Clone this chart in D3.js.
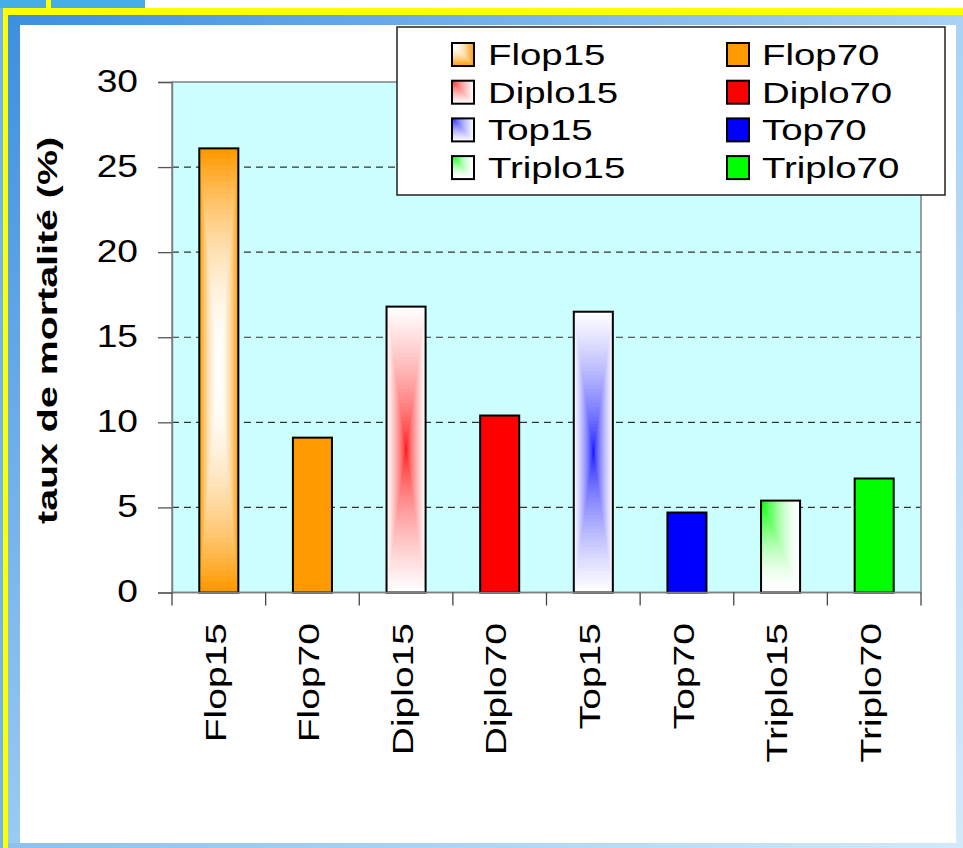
<!DOCTYPE html>
<html>
<head>
<meta charset="utf-8">
<script src="https://cdn.jsdelivr.net/npm/d3@7"></script>
<style>
  html, body { margin: 0; padding: 0; background: #ffffff; }
  svg { display: block; }
  text { font-family: "Liberation Sans", Arial, Helvetica, sans-serif; fill: #000; }
</style>
</head>
<body>
<svg id="chart" width="963" height="848"></svg>
<script>
// Mortality rate (%) per treatment
const categories = ["Flop15", "Flop70", "Diplo15", "Diplo70", "Top15", "Top70", "Triplo15", "Triplo70"];
const mortality = [26.1, 9.1, 16.8, 10.4, 16.5, 4.7, 5.4, 6.7];
const yTicks = [0, 5, 10, 15, 20, 25, 30];
const legendOrder = ["Flop15", "Flop70", "Diplo15", "Diplo70", "Top15", "Top70", "Triplo15", "Triplo70"];
const yTitle = "taux de mortalité (%)";

// Fill style per treatment: solid, centre-out rectangular gradient, or corner gradient
const styles = {
  Flop15:   { kind: "center", edge: "#ff9900", core: "#ffffff", curve: t => Math.pow(t, 2) },
  Flop70:   { kind: "solid",  color: "#ff9900" },
  Diplo15:  { kind: "center", edge: "#ffffff", core: "#ff0000", curve: t => Math.pow(t, 0.6) },
  Diplo70:  { kind: "solid",  color: "#ff0000" },
  Top15:    { kind: "center", edge: "#ffffff", core: "#0000ff", curve: t => Math.pow(t, 0.6) },
  Top70:    { kind: "solid",  color: "#0000ff" },
  Triplo15: { kind: "corner", edge: "#ffffff", core: "#00ff00", curve: t => 1 - Math.pow(1 - t, 1.7) },
  Triplo70: { kind: "solid",  color: "#00ff00" }
};

const svg = d3.select("#chart");
const W = 963, H = 848;

// ---------- slide frame ----------
const defs = svg.append("defs");
function linGrad(id, x2, y2, stops) {
  const g = defs.append("linearGradient").attr("id", id)
    .attr("x1", 0).attr("y1", 0).attr("x2", x2).attr("y2", y2);
  stops.forEach(([o, c]) => g.append("stop").attr("offset", o).attr("stop-color", c));
}
linGrad("bandTop", 1, 0, [[0, "#3d8fe0"], [1, "#a9d2f4"]]);
linGrad("bandLeft", 0, 1, [[0, "#3d8fe0"], [1, "#9ccbf2"]]);
linGrad("bandBottom", 1, 0, [[0, "#8cc0ee"], [1, "#d2eafa"]]);
linGrad("bandRight", 0, 1, [[0, "#a9d2f4"], [1, "#d2eafa"]]);

svg.append("rect").attr("width", W).attr("height", H).attr("fill", "#ffffff");
svg.append("rect").attr("x", 0).attr("y", 0).attr("width", 145).attr("height", 9).attr("fill", "#45ade6");
svg.append("rect").attr("x", 0).attr("y", 8).attr("width", 3).attr("height", H - 8).attr("fill", "#6fb6ec");
svg.append("rect").attr("x", 46).attr("y", 0).attr("width", 5).attr("height", 9).attr("fill", "#ffff00");
svg.append("rect").attr("x", 3).attr("y", 8).attr("width", W - 3).attr("height", 7).attr("fill", "#ffff00");
svg.append("rect").attr("x", 3).attr("y", 8).attr("width", 5).attr("height", H - 8).attr("fill", "#ffff00");
svg.append("rect").attr("x", 8).attr("y", 15).attr("width", W - 8).attr("height", 10).attr("fill", "url(#bandTop)");
svg.append("rect").attr("x", 8).attr("y", 15).attr("width", 12).attr("height", H - 15).attr("fill", "url(#bandLeft)");
svg.append("rect").attr("x", 8).attr("y", 843).attr("width", W - 8).attr("height", 5).attr("fill", "url(#bandBottom)");
svg.append("rect").attr("x", 956).attr("y", 15).attr("width", 7).attr("height", H - 15).attr("fill", "url(#bandRight)");

// ---------- scales ----------
const plot = { left: 172, right: 921, top: 82, bottom: 592.5 };
const x = d3.scaleBand().domain(categories).range([plot.left, plot.right])
  .paddingInner(0.583).paddingOuter(0.583 / 2);
const y = d3.scaleLinear().domain([0, 30]).range([plot.bottom, plot.top]);

// stretch text along its run by a factor
function stretch(sel, factor) {
  sel.each(function () {
    const len = this.getComputedTextLength();
    d3.select(this).attr("textLength", len * factor).attr("lengthAdjust", "spacingAndGlyphs");
  });
}

// plot background
svg.append("rect")
  .attr("x", plot.left).attr("y", plot.top)
  .attr("width", plot.right - plot.left).attr("height", plot.bottom - plot.top)
  .attr("fill", "#ccffff");

// dashed gridlines
svg.append("g").selectAll("line")
  .data(yTicks.filter(v => v > 0 && v < 30))
  .join("line")
  .attr("x1", plot.left).attr("x2", plot.right)
  .attr("y1", d => y(d)).attr("y2", d => y(d))
  .attr("stroke", "#333").attr("stroke-width", 1.2)
  .attr("stroke-dasharray", "7,5");

// plot frame
svg.append("rect")
  .attr("x", plot.left).attr("y", plot.top)
  .attr("width", plot.right - plot.left).attr("height", plot.bottom - plot.top)
  .attr("fill", "none").attr("stroke", "#808080").attr("stroke-width", 1.5);

// ---------- bars ----------
const mix = (a, b, f) => d3.interpolateRgb(a, b)(f);
const STEPS = 40;

function drawFill(g, s, x0, y0, w, h) {
  if (s.kind === "solid") {
    g.append("rect").attr("x", x0).attr("y", y0).attr("width", w).attr("height", h).attr("fill", s.color);
    return;
  }
  const layers = d3.range(STEPS).map(i => 1 - i / STEPS);
  layers.forEach(t => {
    // t = 1 at the outer edge, approaching 0 towards the core
    const col = mix(s.core, s.edge, s.curve(t));
    if (s.kind === "center") {
      const rw = w * t, rh = h * t;
      g.append("rect").attr("x", x0 + (w - rw) / 2).attr("y", y0 + (h - rh) / 2)
        .attr("width", rw).attr("height", rh).attr("fill", col);
    } else {
      g.append("rect").attr("x", x0).attr("y", y0)
        .attr("width", w * t).attr("height", h * t).attr("fill", col);
    }
  });
}

function drawCornerSwatch(g, s, x0, y0, w, h) {
  if (s.kind === "solid") {
    g.append("rect").attr("x", x0).attr("y", y0).attr("width", w).attr("height", h).attr("fill", s.color);
    return;
  }
  d3.range(STEPS).map(i => 1 - i / STEPS).forEach(t => {
    g.append("rect").attr("x", x0).attr("y", y0)
      .attr("width", w * t).attr("height", h * t)
      .attr("fill", mix(s.core, s.edge, s.curve(t)));
  });
}

const bars = svg.append("g");
categories.forEach((c, i) => {
  const v = mortality[i];
  const g = bars.append("g");
  const x0 = x(c), w = x.bandwidth(), y0 = y(v), h = y(0) - y(v);
  drawFill(g, styles[c], x0, y0, w, h);
  g.append("rect").attr("x", x0).attr("y", y0).attr("width", w).attr("height", h)
    .attr("fill", "none").attr("stroke", "#000").attr("stroke-width", 2);
});

// ---------- axes ----------
const yAxis = svg.append("g").attr("transform", `translate(${plot.left},0)`)
  .call(d3.axisLeft(y).tickValues(yTicks).tickSize(14).tickPadding(0).tickFormat(d3.format("d")));
yAxis.select(".domain").attr("stroke", "#808080").attr("stroke-width", 1.5);
yAxis.selectAll(".tick line").attr("stroke", "#555").attr("stroke-width", 1.3);
yAxis.selectAll(".tick text")
  .attr("x", 138 - plot.left).attr("dy", null).attr("y", 9)
  .attr("font-size", 31.5).attr("text-anchor", "end")
  .call(stretch, 1.18);

// category separators on the x axis
const step = x.step();
const xAxis = svg.append("g");
xAxis.append("line").attr("x1", plot.left).attr("x2", plot.right)
  .attr("y1", plot.bottom).attr("y2", plot.bottom).attr("stroke", "#808080").attr("stroke-width", 1.5);
xAxis.selectAll("line.sep").data(d3.range(categories.length + 1)).join("line")
  .attr("class", "sep")
  .attr("x1", i => plot.left + i * step).attr("x2", i => plot.left + i * step)
  .attr("y1", plot.bottom).attr("y2", plot.bottom + 13)
  .attr("stroke", "#444").attr("stroke-width", 1.3);

xAxis.selectAll("text").data(categories).join("text")
  .attr("transform", d => `translate(${x(d) + x.bandwidth() / 2 + 6.7},623) rotate(-90)`)
  .attr("text-anchor", "end")
  .attr("font-size", 30)
  .text(d => d)
  .call(stretch, 1.3);

// y axis title
svg.append("text")
  .attr("transform", "translate(57,330.5) rotate(-90)")
  .attr("text-anchor", "middle")
  .attr("font-size", 28).attr("font-weight", "bold")
  .text(yTitle)
  .call(sel => sel.each(function () {
    d3.select(this).attr("textLength", 387).attr("lengthAdjust", "spacingAndGlyphs");
  }));

// ---------- legend ----------
const legend = svg.append("g");
legend.append("rect").attr("x", 397).attr("y", 27).attr("width", 548).attr("height", 168)
  .attr("fill", "#ffffff").attr("stroke", "#222").attr("stroke-width", 1.5);
const colX = [452, 727], textX = [488, 762];
legendOrder.forEach((name, i) => {
  const col = i % 2, row = Math.floor(i / 2);
  const base = 65 + row * 37.7;
  const g = legend.append("g");
  drawCornerSwatch(g, styles[name], colX[col], base - 22, 22, 23);
  g.append("rect").attr("x", colX[col]).attr("y", base - 22).attr("width", 22).attr("height", 23)
    .attr("fill", "none").attr("stroke", "#000").attr("stroke-width", 2);
  g.append("text").attr("x", textX[col]).attr("y", base)
    .attr("font-size", 30).text(name).call(stretch, 1.28);
});
</script>
</body>
</html>
